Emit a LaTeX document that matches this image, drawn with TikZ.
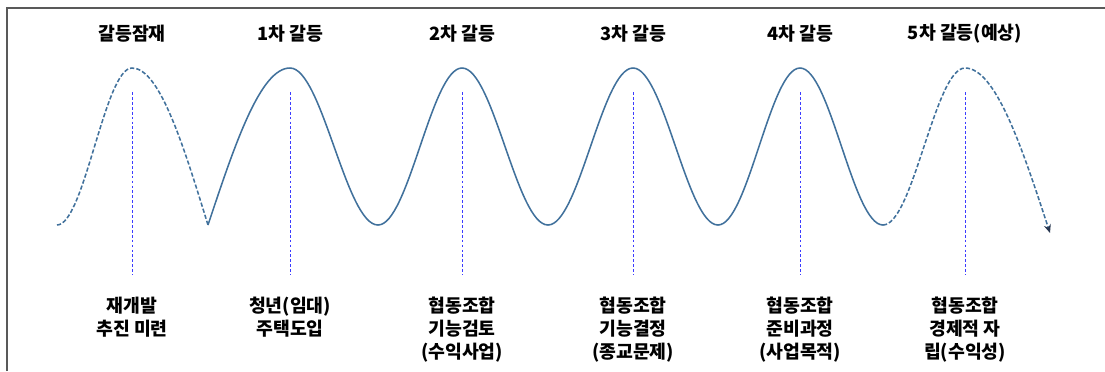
\documentclass[tikz,border=0pt]{standalone}
\usepackage{fontspec}
\setmainfont{Noto Sans CJK KR}
\usepackage{tikz}
\usetikzlibrary{arrows.meta, positioning, calc}
\definecolor{wblue}{RGB}{65, 113, 156}
\definecolor{gblue}{RGB}{60, 60, 255}
\definecolor{tipnavy}{RGB}{40, 55, 80}

\tikzset{
    wave/.style={wblue, line width=1.1pt},
    wavefut/.style={wave, dash pattern=on 3pt off 1.5pt},
    guide/.style={gblue, line width=0.5pt, dash pattern=on 2pt off 1.5pt},
    phase/.style={font=\bfseries\fontsize{13}{16.3}\selectfont, align=center, inner sep=0pt},
}

\begin{document}
\begin{tikzpicture}[x=0.025cm, y=-0.025cm, node distance=0.55cm]
    \useasboundingbox (0,0) rectangle (1105,371);

    % Frame (top and left edge)
    \draw[gray!70!black, line width=0.8pt] (7,371) -- (7,8) -- (1105,8);

    % Peaks, troughs and guide ends
    \foreach \n/\x in {0/132, 1/290, 2/462, 3/633, 4/800, 5/965} {
        \coordinate (p\n) at (\x,68);
        \coordinate (gt\n) at (\x,92);
        \coordinate (gb\n) at (\x,275);
    }
    \foreach \n/\x in {0/57, 1/208, 2/378, 3/548, 4/718, 5/883}
        \coordinate (t\n) at (\x,225);
    \coordinate (wend) at (1050,233);

    % Latent phase (dashed)
    \draw[wavefut] (t0) cos ($(t0)!.5!(p0)$) sin (p0) cos (t1);

    % Conflict waves
    \draw[wave] (t1) sin (p1)
        \foreach \i/\j in {1/2, 2/3, 3/4} {
            cos ($(p\i)!.5!(t\j)$) sin (t\j) cos ($(t\j)!.5!(p\j)$) sin (p\j)
        }
        cos ($(p4)!.5!(t5)$) sin (t5);

    % Expected wave
    \draw[wavefut, -{Stealth[length=6pt, width=5pt, color=tipnavy]}]
        (t5) cos ($(t5)!.5!(p5)$) sin (p5) cos (wend);

    % Guides
    \foreach \n in {0,...,5}
        \draw[guide] (gt\n) -- (gb\n);

    % Phase titles
    \foreach \n/\x/\txt in {0/132/갈등잠재, 1/290/1차 갈등, 2/462/2차 갈등,
                            3/633/3차 갈등, 4/800/4차 갈등, 5/965/5차 갈등(예상)}
        \node[phase] (top\n) at (\x,34) {\txt};

    % Phase notes
    \foreach \n/\txt in {0/{재개발\\추진 미련}, 1/{청년(임대)\\주택도입},
                         2/{협동조합\\기능검토\\(수익사업)}, 3/{협동조합\\기능결정\\(종교문제)},
                         4/{협동조합\\준비과정\\(사업목적)}, 5/{협동조합\\경제적 자\\립(수익성)}}
        \node[phase, below=of gb\n] (note\n) {\txt};
\end{tikzpicture}
\end{document}
